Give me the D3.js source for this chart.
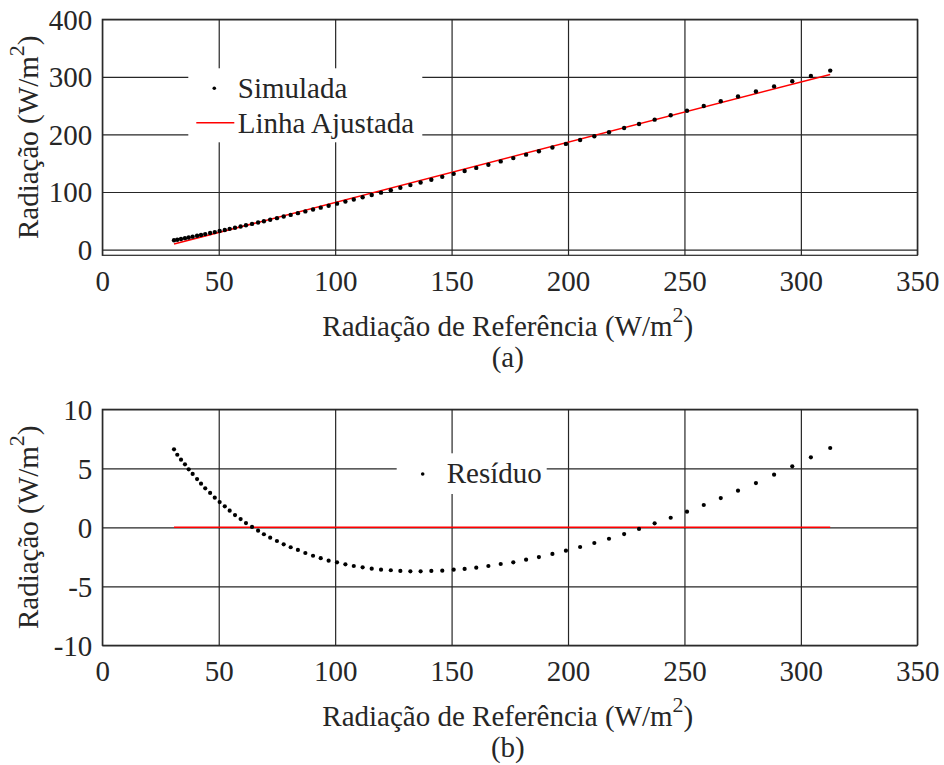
<!DOCTYPE html>
<html>
<head>
<meta charset="utf-8">
<script src="https://cdn.jsdelivr.net/npm/d3@7"></script>
<style>
  html, body { margin: 0; padding: 0; background: #fff; }
  svg { display: block; }
  svg text { font-family: "Liberation Serif", "Times New Roman", "DejaVu Serif", serif !important; fill: #262626; }
</style>
</head>
<body>
<svg id="chart" width="944" height="765"></svg>
<script>
// Radiação de referência (eixo x), comum aos dois gráficos
const referencia = [30.8, 32.2, 33.8, 35.5, 37.1, 38.8, 40.7, 42.4, 44.2, 46.3,
  48.3, 50.4, 52.6, 54.7, 57.0, 59.4, 61.7, 64.3, 66.9, 69.4,
  72.1, 75.0, 77.9, 80.9, 84.0, 87.2, 90.5, 93.8, 97.2, 100.8,
  104.4, 108.0, 111.8, 115.7, 119.7, 123.9, 128.0, 132.3, 136.7, 141.3,
  146.0, 150.9, 155.6, 160.6, 165.8, 171.1, 176.5, 182.0, 187.5, 193.3,
  199.1, 205.2, 211.3, 217.6, 224.1, 230.5, 237.2, 244.1, 251.1, 258.3,
  265.6, 273.0, 280.7, 288.5, 296.3, 304.3, 312.6];

// Radiação simulada (gráfico a)
const simulada = [16.12, 17.12, 18.37, 19.76, 21.01, 22.39, 23.95, 25.34, 26.82, 28.63,
  30.32, 32.14, 34.08, 35.91, 37.94, 40.11, 42.18, 44.57, 46.97, 49.28,
  51.81, 54.57, 57.32, 60.21, 63.22, 66.31, 69.53, 72.77, 76.11, 79.74,
  83.33, 86.96, 90.82, 94.78, 98.88, 103.22, 107.45, 111.92, 116.52, 121.36,
  126.29, 131.51, 136.48, 141.82, 147.40, 153.11, 158.90, 164.88, 170.85, 177.18,
  183.52, 190.21, 196.93, 203.87, 211.07, 218.19, 225.68, 233.37, 241.20, 249.29,
  257.52, 265.88, 274.58, 283.45, 292.31, 301.44, 310.91];

// Resíduo da regressão (gráfico b)
const residuo = [6.61, 6.15, 5.73, 5.34, 4.91, 4.52, 4.09, 3.70, 3.30, 2.91,
  2.51, 2.14, 1.78, 1.41, 1.04, 0.70, 0.36, 0.03, -0.29, -0.59,
  -0.88, -1.16, -1.44, -1.69, -1.92, -2.18, -2.41, -2.62, -2.83, -2.97,
  -3.14, -3.28, -3.39, -3.51, -3.59, -3.64, -3.70, -3.73, -3.73, -3.70,
  -3.68, -3.59, -3.53, -3.42, -3.28, -3.11, -2.97, -2.74, -2.52, -2.26,
  -1.98, -1.67, -1.33, -0.97, -0.57, -0.14, 0.34, 0.81, 1.32, 1.89,
  2.48, 3.10, 3.75, 4.46, 5.17, 5.93, 6.72];

// Linha ajustada (extremos) e linha de resíduo zero
const ajusteX = [30.8, 312.6];
const ajusteY = [9.5, 304.2];
const zeroY = [0, 0];

// Marcas dos eixos
const xTicks = [0, 50, 100, 150, 200, 250, 300, 350];
const yTicksA = [0, 100, 200, 300, 400];
const yTicksB = [-10, -5, 0, 5, 10];

const svg = d3.select("#chart");
const FONT = 29;
const SUP = 22;
const SERIF = "Liberation Serif, Times New Roman, serif";
const gridColor = "#262626";

function panel(opts) {
  const { left, top, width, height, yDomain, yTicks, letter } = opts;
  const x = d3.scaleLinear().domain([0, 350]).range([0, width]);
  const y = d3.scaleLinear().domain(yDomain).range([height, 0]);
  const g = svg.append("g").attr("transform", `translate(${left},${top})`)
    .attr("font-family", SERIF);

  // grade
  const gx = g.append("g").call(d3.axisBottom(x).tickValues(xTicks).tickSize(-height).tickFormat(""))
    .attr("transform", `translate(0,${height})`);
  const gy = g.append("g").call(d3.axisLeft(y).tickValues(yTicks).tickSize(-width).tickFormat(""));
  [gx, gy].forEach(a => {
    a.select(".domain").remove();
    a.selectAll("line").attr("stroke", gridColor).attr("stroke-width", 1.2);
  });

  // rótulos das marcas
  const fmt = d => String(d);
  const lx = g.append("g").attr("transform", `translate(0,${height})`)
    .call(d3.axisBottom(x).tickValues(xTicks).tickSize(0).tickPadding(27).tickFormat(fmt));
  const ly = g.append("g").call(d3.axisLeft(y).tickValues(yTicks).tickSize(0).tickPadding(10).tickFormat(fmt));
  [lx, ly].forEach(a => {
    a.attr("font-family", SERIF).attr("font-size", FONT);
    a.select(".domain").remove();
    a.selectAll("text").attr("font-size", FONT).attr("font-family", SERIF).attr("fill", gridColor);
  });
  lx.selectAll("text").attr("dy", "0.3em");
  ly.selectAll("text").attr("dy", "0.34em");

  // títulos dos eixos
  const xt = g.append("text").attr("x", width / 2 - 2).attr("y", height + 81)
    .attr("text-anchor", "middle").attr("font-size", FONT);
  xt.append("tspan").text("Radiação de Referência (W/m");
  xt.append("tspan").text("2").attr("font-size", SUP).attr("dy", -14);
  xt.append("tspan").text(")").attr("dy", 14);

  g.append("text").attr("x", width / 2 - 2).attr("y", height + 112)
    .attr("text-anchor", "middle").attr("font-size", FONT).text(letter);

  const yt = g.append("text").attr("transform", `translate(${-64},${height / 2}) rotate(-90)`)
    .attr("text-anchor", "middle").attr("font-size", FONT);
  yt.append("tspan").text("Radiação (W/m");
  yt.append("tspan").text("2").attr("font-size", SUP).attr("dy", -14);
  yt.append("tspan").text(")").attr("dy", 14);

  return { g, x, y, width, height };
}

// ----- gráfico (a) -----
const A = panel({ left: 102.3, top: 19.3, width: 815, height: 236,
  yDomain: [-10, 400], yTicks: yTicksA, letter: "(a)" });

// legenda (a)
const legA = A.g.append("g");
legA.append("rect").attr("x", 86).attr("y", 49).attr("width", 234).attr("height", 74).attr("fill", "#fff");
legA.append("circle").attr("cx", 112).attr("cy", 69).attr("r", 1.8).attr("fill", "#000");
legA.append("text").attr("x", 135.5).attr("y", 79).attr("font-size", FONT).text("Simulada");
legA.append("line").attr("x1", 94).attr("x2", 132).attr("y1", 103.4).attr("y2", 103.4)
  .attr("stroke", "#ff0000").attr("stroke-width", 1.5);
legA.append("text").attr("x", 135.5).attr("y", 113.4).attr("font-size", FONT).text("Linha Ajustada");

A.g.append("line")
  .attr("x1", A.x(ajusteX[0])).attr("y1", A.y(ajusteY[0]))
  .attr("x2", A.x(ajusteX[1])).attr("y2", A.y(ajusteY[1]))
  .attr("stroke", "#ff0000").attr("stroke-width", 1.5);

A.g.append("g").selectAll("circle").data(referencia).join("circle")
  .attr("cx", d => A.x(d)).attr("cy", (d, i) => A.y(simulada[i]))
  .attr("r", 2.2).attr("fill", "#000");

A.g.append("rect").attr("width", A.width).attr("height", A.height)
  .attr("fill", "none").attr("stroke", gridColor).attr("stroke-width", 1.2);

// ----- gráfico (b) -----
const B = panel({ left: 102.3, top: 409.3, width: 815, height: 236,
  yDomain: [-10, 10], yTicks: yTicksB, letter: "(b)" });

const legB = B.g.append("g");
legB.append("rect").attr("x", 294.4).attr("y", 44).attr("width", 150).attr("height", 40.7).attr("fill", "#fff");
legB.append("circle").attr("cx", 320.4).attr("cy", 64.7).attr("r", 1.8).attr("fill", "#000");
legB.append("text").attr("x", 344.4).attr("y", 74).attr("font-size", FONT).text("Resíduo");

B.g.append("line")
  .attr("x1", B.x(ajusteX[0])).attr("y1", B.y(zeroY[0]))
  .attr("x2", B.x(ajusteX[1])).attr("y2", B.y(zeroY[1]))
  .attr("stroke", "#ff0000").attr("stroke-width", 1.5);

B.g.append("g").selectAll("circle").data(referencia).join("circle")
  .attr("cx", d => B.x(d)).attr("cy", (d, i) => B.y(residuo[i]))
  .attr("r", 2.1).attr("fill", "#000");

B.g.append("rect").attr("width", B.width).attr("height", B.height)
  .attr("fill", "none").attr("stroke", gridColor).attr("stroke-width", 1.2);
</script>
</body>
</html>
